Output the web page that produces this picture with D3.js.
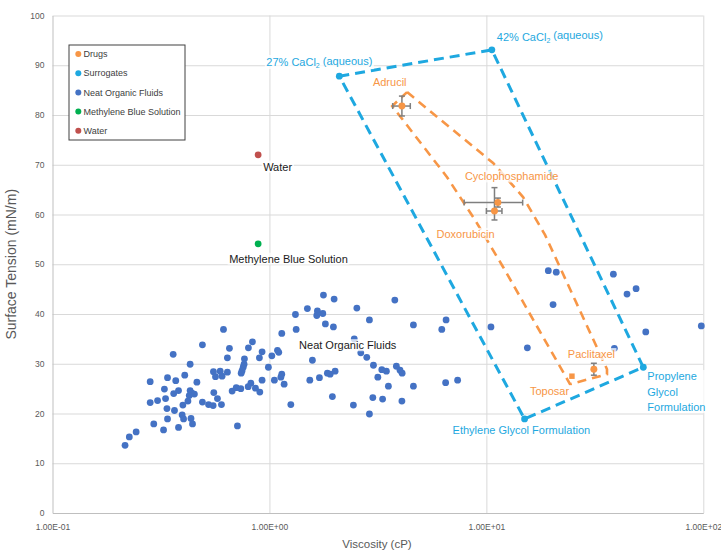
<!DOCTYPE html>
<html lang="en">
<head>
<meta charset="UTF-8">
<title>Surface tension vs viscosity</title>
<style>
  body { margin: 0; background: #fff; }
  svg { display: block; font-family: "Liberation Sans", Arial, sans-serif; }
  .grid line { stroke: #d9d9d9; stroke-width: 1; }
  .grid .domain { display: none; }
  .axis text { fill: #595959; font-size: 8.5px; }
  .axis .domain { stroke: #bfbfbf; }
</style>
</head>
<body>
<svg id="chart" width="721" height="550"></svg>
<script src="https://d3js.org/d3.v7.min.js"></script>
<script>
// neat organic fluids: viscosity (cP) and surface tension (mN/m)
const neatVisc = [0.614, 0.491, 0.360, 0.654, 0.640, 0.431, 0.407, 0.339, 0.282, 0.370,
  0.463, 0.552, 0.593, 0.564, 0.605, 0.640, 0.328, 0.381, 0.362, 0.431,
  0.439, 0.427, 0.451, 0.332, 0.305, 0.282, 0.421, 0.399, 0.491, 0.524,
  0.550, 0.554, 0.576, 0.601, 0.337, 0.365, 0.396, 0.402, 0.435, 0.442,
  0.339, 0.293, 0.381, 0.325, 0.243, 0.226, 0.216, 1.774, 1.987, 1.496,
  1.318, 1.664, 1.653, 1.762, 1.811, 1.972, 1.328, 1.140, 0.835, 0.800,
  0.925, 0.899, 1.089, 1.104, 1.026, 0.767, 1.578, 0.989, 0.764, 0.757,
  0.748, 0.741, 1.140, 1.129, 1.054, 0.925, 0.821, 0.798, 1.169, 1.535,
  1.700, 1.850, 1.905, 2.008, 0.673, 0.703, 0.738, 0.862, 0.903, 1.951,
  1.255, 0.712, 2.529, 3.784, 2.890, 4.61, 6.23, 6.52, 2.637, 2.81,
  3.016, 3.296, 3.461, 3.16, 3.847, 4.0, 4.09, 3.535, 4.61, 6.49,
  7.37, 2.996, 3.324, 4.08, 2.438, 2.890, 19.3, 21.0, 38.5, 44.5,
  49.0, 20.3, 54.3, 97.9, 15.45, 38.9, 10.5, 2.46];
const neatST = [36.9, 33.8, 31.9, 33.1, 31.2, 29.9, 27.7, 27.2, 26.4, 26.6,
  26.3, 28.4, 28.5, 27.4, 27.5, 28.3, 24.9, 24.6, 24.0, 24.6,
  24.1, 23.6, 23.9, 23.0, 22.6, 22.2, 22.5, 21.7, 22.3, 21.8,
  21.6, 24.2, 23.0, 21.8, 21.0, 20.6, 19.7, 18.9, 19.0, 17.9,
  18.9, 17.9, 17.2, 16.7, 16.3, 15.3, 13.6, 43.8, 43.0, 41.1,
  39.9, 40.6, 39.7, 40.1, 38.0, 37.4, 36.9, 36.1, 34.4, 33.2,
  32.4, 31.2, 32.7, 32.3, 31.6, 31.0, 30.7, 29.3, 29.9, 29.3,
  28.6, 28.1, 27.9, 27.3, 26.7, 26.7, 26.1, 25.4, 25.9, 26.7,
  27.2, 28.1, 27.9, 28.5, 24.5, 25.2, 25.0, 25.1, 24.3, 23.4,
  21.8, 17.5, 41.2, 42.8, 38.8, 37.8, 36.9, 38.8, 32.2, 31.3,
  29.7, 28.8, 28.5, 27.3, 29.5, 28.7, 28.1, 25.5, 25.5, 26.2,
  26.7, 23.2, 22.9, 22.5, 21.7, 19.9, 48.7, 48.4, 48.0, 44.0,
  45.1, 41.9, 36.4, 37.6, 33.2, 33.1, 37.4, 35.0];

// drugs
const drugNames = ["Adrucil", "Cyclophosphamide", "Doxorubicin", "Paclitaxel", "Toposar"];
const drugVisc = [4.08, 11.3, 10.9, 31.3, 24.8];
const drugST = [81.8, 62.4, 60.7, 28.9, 27.5];
const drugViscErr = [0.38, 3.4, 0.9, 0, 0];
const drugSTErrUp = [2.0, 0.9, 4.7, 1.2, 0];
const drugSTErrDown = [2.0, 0.9, 1.8, 1.2, 0];

// drug region outline (viscosity, surface tension)
const drugHullVisc = [4.31, 10.74, 14.76, 18.64, 25.64, 35.98, 35.98, 24.31, 11.81, 8.87, 6.59, 3.68];
const drugHullST = [84.6, 70.35, 63.5, 55.9, 42.8, 28.9, 27.9, 25.9, 49.8, 58.9, 67.5, 81.8];

// surrogates, in outline order
const surrNames = ["27% CaCl2 (aqueous)", "42% CaCl2 (aqueous)", "Propylene Glycol Formulation", "Ethylene Glycol Formulation"];
const surrVisc = [2.10, 10.6, 52.9, 15.0];
const surrST = [87.8, 93.1, 29.3, 18.9];

// single fluids
const waterVisc = [0.887], waterST = [72.0];
const mbVisc = [0.887], mbST = [54.1];

const legendNames = ["Drugs", "Surrogates", "Neat Organic Fluids", "Methylene Blue Solution", "Water"];

const xTickValues = [0.1, 1, 10, 100];
const xTickLabels = ["1.00E-01", "1.00E+00", "1.00E+01", "1.00E+02"];
const yTickValues = [0, 10, 20, 30, 40, 50, 60, 70, 80, 90, 100];

const colors = {
  drug: "#f79646",
  surr: "#1ea8e0",
  neat: "#4472c4",
  mb: "#00b050",
  water: "#c0504d",
  err: "#7f7f7f"
};

const svg = d3.select("#chart");
const plotL = 52.5, plotR = 703.3, plotT = 15.5, plotB = 513;

const x = d3.scaleLog().domain([0.1, 100]).range([plotL, plotR]);
const y = d3.scaleLinear().domain([0, 100]).range([plotB, plotT]);

// gridlines
svg.append("g").attr("class", "grid")
  .attr("transform", `translate(${plotL},0)`)
  .call(d3.axisLeft(y).tickValues(yTickValues.slice(1)).tickSize(-(plotR - plotL)).tickFormat(""));
svg.append("g").attr("class", "grid")
  .attr("transform", `translate(0,${plotB})`)
  .call(d3.axisBottom(x).tickValues(xTickValues.slice(1)).tickSize(-(plotB - plotT)).tickFormat(""));

// axes
svg.append("g").attr("class", "axis")
  .attr("transform", `translate(0,${plotB})`)
  .call(d3.axisBottom(x).tickValues(xTickValues).tickSize(0).tickPadding(11)
    .tickFormat((d, i) => xTickLabels[i]));
svg.append("g").attr("class", "axis")
  .attr("transform", `translate(${plotL},0)`)
  .call(d3.axisLeft(y).tickValues(yTickValues).tickSize(0).tickPadding(8));

svg.append("text")
  .attr("x", 377).attr("y", 548)
  .attr("text-anchor", "middle")
  .attr("fill", "#595959").attr("font-size", 11.5)
  .text("Viscosity (cP)");
svg.append("text")
  .attr("transform", `translate(16,${(plotT + plotB) / 2}) rotate(-90)`)
  .attr("text-anchor", "middle")
  .attr("fill", "#595959").attr("font-size", 14)
  .text("Surface Tension (mN/m)");

// neat organic fluids
svg.append("g").selectAll("circle")
  .data(neatVisc.map((v, i) => [v, neatST[i]]))
  .join("circle")
  .attr("cx", d => x(d[0])).attr("cy", d => y(d[1]))
  .attr("r", 3.4).attr("fill", colors.neat);

// water and methylene blue
svg.append("circle").attr("cx", x(waterVisc[0])).attr("cy", y(waterST[0])).attr("r", 3.4).attr("fill", colors.water);
svg.append("circle").attr("cx", x(mbVisc[0])).attr("cy", y(mbST[0])).attr("r", 3.4).attr("fill", colors.mb);

const lineGen = d3.line().x(d => x(d[0])).y(d => y(d[1]));

// surrogate outline
const surrPts = surrVisc.map((v, i) => [v, surrST[i]]);
svg.append("path")
  .attr("d", lineGen(surrPts.concat([surrPts[0]])))
  .attr("fill", "none").attr("stroke", colors.surr)
  .attr("stroke-width", 3).attr("stroke-dasharray", "10,6");
svg.append("g").selectAll("circle")
  .data(surrPts).join("circle")
  .attr("cx", d => x(d[0])).attr("cy", d => y(d[1]))
  .attr("r", 3.4).attr("fill", colors.surr);

// drug outline
const hullPts = drugHullVisc.map((v, i) => [v, drugHullST[i]]);
svg.append("path")
  .attr("d", lineGen(hullPts.concat([hullPts[0]])))
  .attr("fill", "none").attr("stroke", colors.drug)
  .attr("stroke-width", 2.6).attr("stroke-dasharray", "9,6");

// drug error bars
const eb = svg.append("g").attr("stroke", colors.err).attr("stroke-width", 1.5);
drugNames.forEach((name, i) => {
  const cx = x(drugVisc[i]), cy = y(drugST[i]);
  if (drugViscErr[i] > 0) {
    const x0 = x(drugVisc[i] - drugViscErr[i]), x1 = x(drugVisc[i] + drugViscErr[i]);
    eb.append("line").attr("x1", x0).attr("x2", x1).attr("y1", cy).attr("y2", cy);
    eb.append("line").attr("x1", x0).attr("x2", x0).attr("y1", cy - 3).attr("y2", cy + 3);
    eb.append("line").attr("x1", x1).attr("x2", x1).attr("y1", cy - 3).attr("y2", cy + 3);
  }
  if (drugSTErrUp[i] > 0) {
    const y0 = y(drugST[i] + drugSTErrUp[i]), y1 = y(drugST[i] - drugSTErrDown[i]);
    eb.append("line").attr("x1", cx).attr("x2", cx).attr("y1", y0).attr("y2", y1);
    eb.append("line").attr("x1", cx - 3).attr("x2", cx + 3).attr("y1", y0).attr("y2", y0);
    eb.append("line").attr("x1", cx - 3).attr("x2", cx + 3).attr("y1", y1).attr("y2", y1);
  }
});

// drug markers (Toposar drawn as a square)
drugNames.forEach((name, i) => {
  const shape = name === "Toposar" ? d3.symbolSquare : d3.symbolCircle;
  svg.append("path")
    .attr("d", d3.symbol().type(shape).size(name === "Toposar" ? 30 : 38)())
    .attr("transform", `translate(${x(drugVisc[i])},${y(drugST[i])})`)
    .attr("fill", colors.drug);
});

// data labels sit on a light white box, like the spreadsheet ones
function label(px, py, color) {
  const g = svg.append("g");
  const t = g.append("text")
    .attr("x", px).attr("y", py).attr("dy", "0.35em")
    .attr("font-size", 11).attr("fill", color);
  return { g, t };
}
function boxIt(g, t) {
  const b = t.node().getBBox();
  g.insert("rect", "text")
    .attr("x", b.x - 1.5).attr("y", b.y)
    .attr("width", b.width + 3).attr("height", b.height)
    .attr("fill", "#fff").attr("fill-opacity", 0.75);
}

// labels: offsets in pixels from each point
const drugLabelOffset = [[-29, -24], [-33, -26], [-58, 23], [-26, -15], [-42, 15]];
drugNames.forEach((name, i) => {
  const { g, t } = label(x(drugVisc[i]) + drugLabelOffset[i][0], y(drugST[i]) + drugLabelOffset[i][1], colors.drug);
  t.text(name);
  boxIt(g, t);
});

const surrLabelOffset = [[-73, -14], [5, -13], [4, 9], [-72, 11]];
surrNames.forEach((name, i) => {
  const lx = x(surrVisc[i]) + surrLabelOffset[i][0];
  const { g, t } = label(lx, y(surrST[i]) + surrLabelOffset[i][1], colors.surr);
  if (name.includes("CaCl2")) {
    const parts = name.split("CaCl2");
    t.append("tspan").text(parts[0] + "CaCl");
    t.append("tspan").attr("font-size", 7).attr("dy", "0.3em").text("2");
    t.append("tspan").attr("dy", "-0.3em").text(parts[1]);
  } else if (name.startsWith("Propylene")) {
    t.attr("dy", null);
    name.split(" ").forEach((w, k) => {
      t.append("tspan").attr("x", lx)
        .attr("dy", k === 0 ? "0.35em" : "1.41em")
        .text(w);
    });
  } else {
    t.text(name);
  }
  boxIt(g, t);
});

[[waterVisc[0], waterST[0], 5, 12, "Water"],
 [mbVisc[0], mbST[0], -29, 15, "Methylene Blue Solution"],
 [1.37, 33.7, 0, 0, "Neat Organic Fluids"]].forEach(([v, s, dx, dy, txt]) => {
  const { g, t } = label(x(v) + dx, y(s) + dy, "#1a1a1a");
  t.text(txt);
  boxIt(g, t);
});

// legend
const legendColors = [colors.drug, colors.surr, colors.neat, colors.mb, colors.water];
const lg = svg.append("g").attr("transform", "translate(69,45)");
lg.append("rect").attr("width", 116).attr("height", 95)
  .attr("fill", "#fff").attr("stroke", "#404040").attr("stroke-width", 1);
legendNames.forEach((name, i) => {
  const row = lg.append("g").attr("transform", `translate(0,${9 + i * 19.2})`);
  row.append("circle").attr("cx", 9.3).attr("cy", 0).attr("r", 3).attr("fill", legendColors[i]);
  row.append("text").attr("x", 14.5).attr("dy", "0.35em")
    .attr("font-size", 9).attr("fill", "#404040").text(name);
});
</script>
</body>
</html>
